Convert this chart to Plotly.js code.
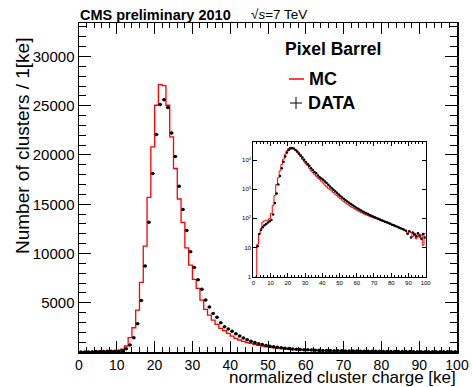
<!DOCTYPE html>
<html>
<head>
<meta charset="utf-8">
<script src="https://cdn.plot.ly/plotly-3.0.1.min.js"></script>
<style>html,body{margin:0;padding:0;background:#fff;}</style>
</head>
<body>
<div id="chart" style="width:472px;height:387px;"></div>
<script>
// Bin lower edges (1 ke bins, 0..99)
const binLow = [0,1,2,3,4,5,6,7,8,9,10,11,12,13,14,15,16,17,18,19,20,21,22,23,24,25,26,27,28,29,30,31,32,33,34,35,36,37,38,39,40,41,42,43,44,45,46,47,48,49,50,51,52,53,54,55,56,57,58,59,60,61,62,63,64,65,66,67,68,69,70,71,72,73,74,75,76,77,78,79,80,81,82,83,84,85,86,87,88,89,90,91,92,93,94,95,96,97,98,99];
const binWidth = 1;

// MC histogram (clusters per 1 ke)
const mcCounts = [0,1,13,30,45,75,82,86,88,100,150,280,610,1450,2460,4260,7070,10750,15690,20820,25050,27150,27050,25050,21830,18630,15530,13150,10580,8820,7370,6460,5270,4330,3750,3245,2800,2400,2160,1890,1620,1390,1220,1080,960,870,770,680,600,535,475,425,380,340,308,280,255,235,215,198,183,170,158,148,139,131,124,117,111,105,100,96,91,86,82,78,74,70,66,62,59,56,52,51,46,44,45,40,38,30,36,33,24,31,20,30,22,27,12,30];

// DATA histogram (clusters per 1 ke)
const dataCounts = [0,0,11,29,40,50,58,64,72,80,88,135,335,710,1450,2870,5240,8720,13180,18120,22070,25120,25620,24810,22240,19840,16830,14470,12340,10170,8590,7330,6360,5270,4560,3920,3520,2970,2570,2330,2100,1850,1620,1420,1240,1090,960,850,750,665,590,525,470,420,380,345,312,285,260,238,218,200,185,172,160,150,140,131,123,116,109,103,97,91,86,81,77,73,69,65,61,58,55,52,49,46,43,41,38,30,36,22,33,28,24,31,26,20,29,22];

// Tick labels
const xTickVals = [0,10,20,30,40,50,60,70,80,90,100];
const xTickText = ['0','10','20','30','40','50','60','70','80','90','100'];
const yTickVals = [5000,10000,15000,20000,25000,30000];
const yTickText = ['5000','10000','15000','20000','25000','30000'];
const insetYTickVals = [1,10,100,1000,10000];
const insetYTickText = ['1','10','10<sup>2</sup>','10<sup>3</sup>','10<sup>4</sup>'];

// Derived arrays for the step outline and points
const mcEdgesX = binLow.concat([binLow[binLow.length-1] + binWidth]);
const mcStepY = mcCounts.concat([mcCounts[mcCounts.length-1]]);
const binCenters = binLow.map(v => v + binWidth/2);
const mcStepYLog = mcStepY.map(v => v > 0 ? v : null);
const dataCentersLog = [], dataLog = [];
binCenters.forEach((c,i)=>{ if(dataCounts[i] > 0){ dataCentersLog.push(c); dataLog.push(dataCounts[i]); } });

const FONT = '"Liberation Sans", Arial, Helvetica, sans-serif';
const L = 79, R = 457, T = 23, B = 352;
const px = p => (p - L) / (R - L);
const py = p => (B - p) / (B - T);

const traces = [
  {x: mcEdgesX, y: mcStepY, type:'scatter', mode:'lines', line:{shape:'hv', color:'#ff0000', width:1.3}, xaxis:'x', yaxis:'y', name:'MC', showlegend:false},
  {x: binCenters, y: dataCounts, type:'scatter', mode:'markers', marker:{color:'#000', size:3.5},
   error_x:{type:'constant', value:binWidth/2, color:'#000', thickness:1, width:0},
   error_y:{type:'sqrt', color:'#000', thickness:1, width:0},
   xaxis:'x', yaxis:'y', name:'DATA', showlegend:false},
  {x: mcEdgesX, y: mcStepYLog, type:'scatter', mode:'lines', line:{shape:'hv', color:'#ff0000', width:1}, xaxis:'x2', yaxis:'y2', showlegend:false, connectgaps:false},
  {x: dataCentersLog, y: dataLog, type:'scatter', mode:'markers', marker:{color:'#000', size:2.5},
   error_x:{type:'constant', value:binWidth/2, color:'#000', thickness:0.8, width:0},
   xaxis:'x2', yaxis:'y2', showlegend:false}
];

const layout = {
  width:472, height:387,
  margin:{l:L, r:472-R, t:T, b:387-B, pad:0},
  paper_bgcolor:'#fff', plot_bgcolor:'rgba(0,0,0,0)',
  font:{family:FONT, color:'#000'},
  showlegend:false,
  xaxis:{domain:[0,1], range:[0,100], tickvals:xTickVals, ticktext:xTickText, ticks:'inside', ticklen:11, tickwidth:1, tickcolor:'#000',
    showline:true, linecolor:'#000', linewidth:1.5, mirror:'ticks', showgrid:false, zeroline:false,
    tickfont:{size:14, family:FONT}, minor:{dtick:2, ticklen:5, ticks:'inside', tickcolor:'#000', showgrid:false}},
  yaxis:{domain:[0,1], range:[0,33400], tickvals:yTickVals, ticktext:yTickText, ticks:'inside', ticklen:12, tickwidth:1, tickcolor:'#000',
    showline:true, linecolor:'#000', linewidth:1.5, mirror:'ticks', showgrid:false, zeroline:false,
    tickfont:{size:15, family:FONT}, minor:{dtick:1000, ticklen:7, ticks:'inside', tickcolor:'#000', showgrid:false}},
  xaxis2:{domain:[px(253.3), px(425.7)], anchor:'y2', range:[0,100], tickvals:xTickVals, ticktext:xTickText, ticks:'inside', ticklen:4, tickcolor:'#000',
    showline:true, linecolor:'#000', linewidth:1, mirror:'ticks', showgrid:false, zeroline:false,
    tickfont:{size:6, family:FONT}, minor:{dtick:2, ticklen:2, ticks:'inside', tickcolor:'#000'}},
  yaxis2:{domain:[py(276.7), py(141.7)], anchor:'x2', type:'log', range:[0,4.63], tickvals:insetYTickVals, ticktext:insetYTickText,
    ticks:'inside', ticklen:4, tickcolor:'#000', showline:true, linecolor:'#000', linewidth:1, mirror:'ticks', showgrid:false, zeroline:false,
    tickfont:{size:6, family:FONT}},
  annotations:[
    {text:'<b>CMS preliminary 2010</b>', xref:'paper', yref:'paper', x:px(78), y:py(15), xanchor:'left', yanchor:'middle', showarrow:false, font:{size:14.5, family:FONT}},
    {text:'\u221A<i>s</i>=7 TeV', xref:'paper', yref:'paper', x:px(249), y:py(15), xanchor:'left', yanchor:'middle', showarrow:false, font:{size:13.5, family:FONT}},
    {text:'<b>Pixel Barrel</b>', xref:'paper', yref:'paper', x:px(333), y:py(49), xanchor:'center', yanchor:'middle', showarrow:false, font:{size:17.5, family:FONT}},
    {text:'<b>MC</b>', xref:'paper', yref:'paper', x:px(307), y:py(79), xanchor:'left', yanchor:'middle', showarrow:false, font:{size:18, family:FONT}},
    {text:'<b>DATA</b>', xref:'paper', yref:'paper', x:px(306), y:py(103), xanchor:'left', yanchor:'middle', showarrow:false, font:{size:18, family:FONT}},
    {text:'normalized cluster charge [ke]', xref:'paper', yref:'paper', x:px(458), y:py(377.5), xanchor:'right', yanchor:'middle', showarrow:false, font:{size:17, family:FONT}},
    {text:'Number of clusters / 1[ke]', xref:'paper', yref:'paper', x:px(22), y:py(146), xanchor:'center', yanchor:'middle', textangle:-90, showarrow:false, font:{size:19, family:FONT}}
  ],
  shapes:[
    {type:'line', xref:'paper', yref:'paper', x0:px(289), x1:px(304), y0:py(79), y1:py(79), line:{color:'#ff0000', width:1.5}},
    {type:'line', xref:'paper', yref:'paper', x0:px(290), x1:px(302), y0:py(103), y1:py(103), line:{color:'#000', width:1}},
    {type:'line', xref:'paper', yref:'paper', x0:px(296), x1:px(296), y0:py(97), y1:py(109), line:{color:'#000', width:1}}
  ]
};

Plotly.newPlot('chart', traces, layout, {displayModeBar:false, staticPlot:true});
</script>
</body>
</html>
